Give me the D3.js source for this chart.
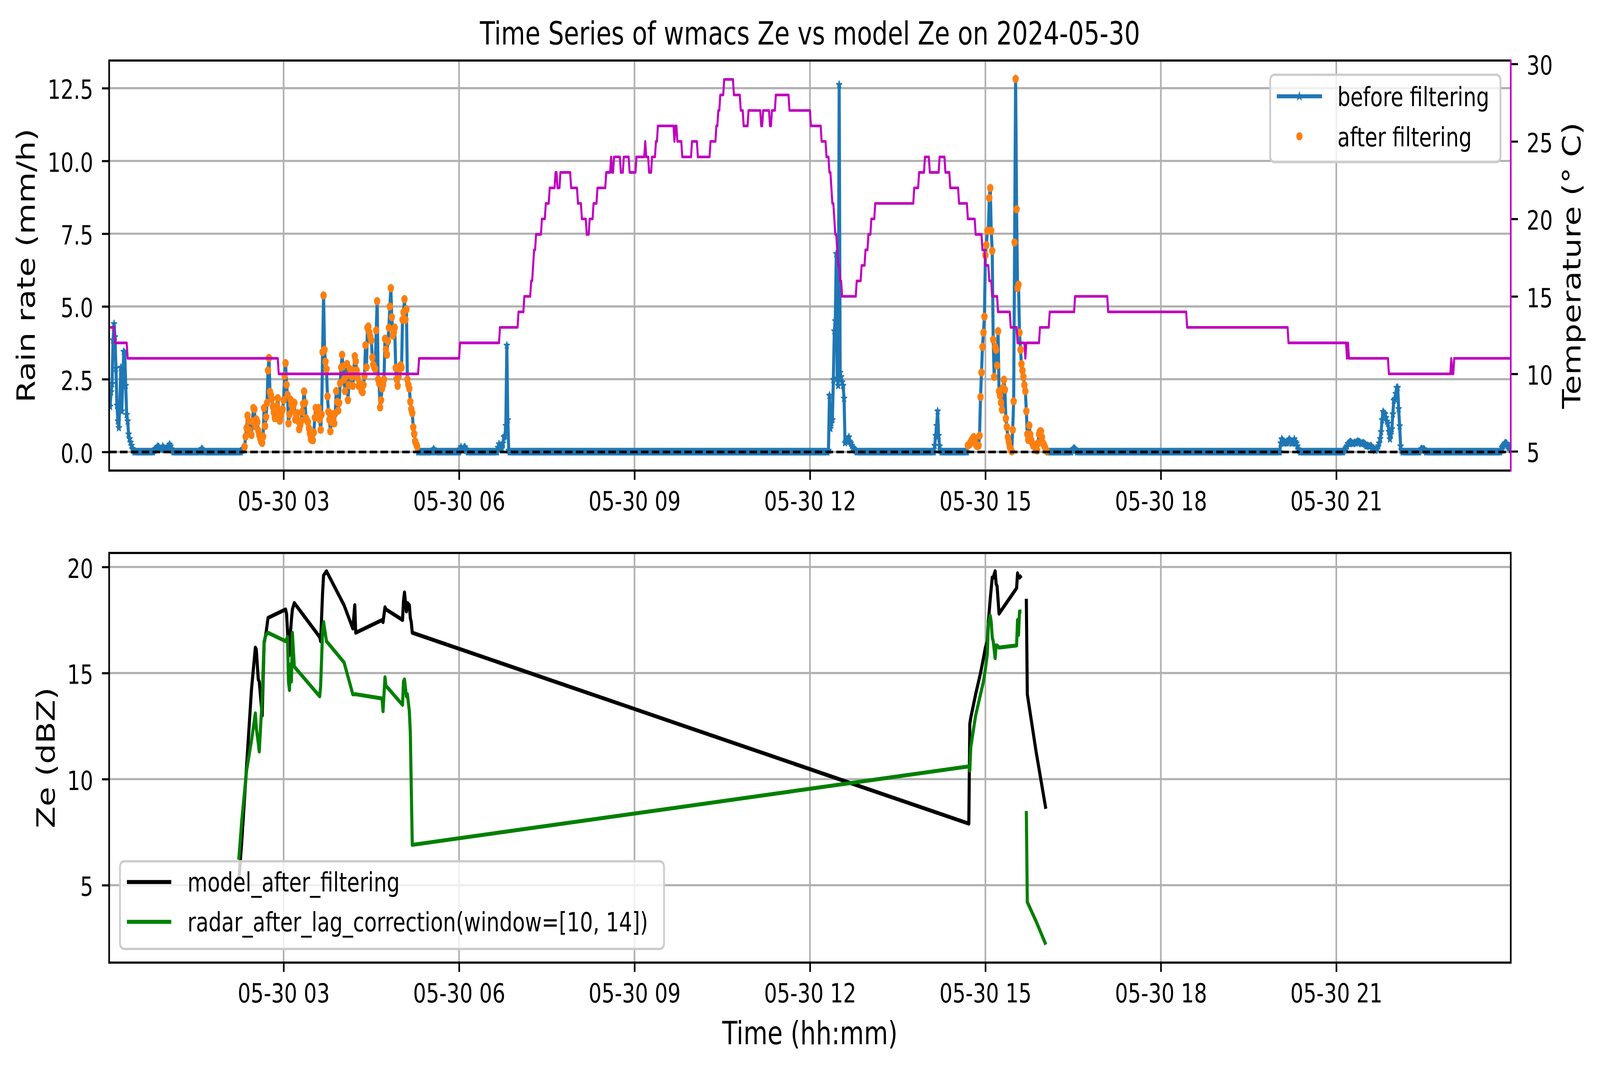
<!DOCTYPE html>
<html>
<head>
<meta charset="utf-8">
<script src="https://cdn.jsdelivr.net/npm/d3@7"></script>
<style>
  html, body { margin: 0; padding: 0; width: 100%; height: 100%; overflow: hidden; background: #fff; }
  svg { display: block; width: 100vw; height: 100vh; }
  text { font-family: "DejaVu Sans", sans-serif; fill: #000; }
</style>
</head>
<body>
<svg id="chart"></svg>
<script>
// ---- data ----
const day = "2024-05-30";

// rain rate, 1-minute samples from 00:01 to 23:59; minutes outside the episodes read 0
const dryRate = 0;
const rainEpisodeStarts = ["00:01", "00:47", "01:35", "02:17", "05:33", "06:01", "06:40", "12:19",
  "14:08", "14:42", "16:29", "20:03", "21:08", "22:26", "23:49"];
const rainEpisodeValues = [
  [1.6, 1.56, 2.06, 2.34, 3.84, 4.40, 3.95, 2.87, 1.6, 1.06, 0.83, 1.7, 2.9, 1.4, 2.5, 3.45, 3.4, 2.28, 1.28, 1.06, 0.61, 0.45, 0.33, 0.22, 0.11, 0.05],
  [0.05, 0.1, 0.11, 0.15, 0.19, 0.17, 0.11, 0.08, 0.12, 0.19, 0.14, 0.1, 0.08, 0.1, 0.15, 0.2, 0.26, 0.2, 0.1, 0.05],
  [0.05, 0.11, 0.08],
  [0.05, 0.1, 0.12, 0.18, 0.53, 0.82, 1.25, 1.07, 0.75, 0.62, 0.58, 1.05, 1.51, 1.47, 0.89, 1.12, 1.02, 0.73, 0.58, 0.46,
   0.36, 0.31, 0.53, 1.51, 0.89, 1.20, 1.69, 2.80, 3.23, 2.07, 1.95, 1.82, 1.55, 1.35, 1.16, 1.29, 1.58, 1.85, 1.42, 1.07,
   1.25, 1.38, 1.47, 1.78, 2.62, 3.05, 2.31, 1.96, 0.98, 1.29, 1.80, 1.62, 1.42, 1.58, 1.69, 1.11, 1.22, 1.33, 1.07, 0.78,
   0.92, 1.07, 1.38, 1.65, 2.08, 1.69, 1.16, 1.08, 1.02, 0.81, 0.62, 0.44, 0.41, 0.40, 0.67, 1.18, 1.51, 1.25, 1.38, 1.51,
   1.12, 0.76, 1.29, 3.43, 5.38, 3.51, 3.1, 2.85, 1.91, 1.38, 1.11, 0.71, 1.02, 1.29, 1.1, 0.98, 1.33, 2.09, 1.72, 1.42,
   1.69, 2.36, 2.9, 3.34, 2.94, 2.49, 2.09, 2.6, 3.02, 1.78, 2.3, 2.85, 2.7, 2.58, 2.27, 2.8, 3.29, 3.11, 2.8, 2.54,
   2.27, 2.35, 2.22, 2.1, 2.05, 2.3, 2.62, 3.67, 2.91, 4.27, 4.31, 4.1, 3.96, 3.83, 3.25, 3.0, 2.9, 2.85, 4.18, 5.18,
   2.49, 2.36, 1.53, 1.78, 2.18, 2.3, 2.49, 3.89, 3.52, 3.34, 3.8, 4.27, 5.0, 5.63, 4.63, 4.0, 4.1, 4.27, 2.89, 2.5,
   2.27, 2.6, 2.85, 2.98, 2.9, 4.54, 4.8, 5.25, 4.54, 4.9, 2.49, 2.3, 2.18, 1.73, 1.47, 1.33, 0.85, 0.62, 0.36, 0.27, 0.18],
  [0.05, 0.1, 0.05],
  [0.1, 0.17, 0.1, 0.05, 0.15, 0.17, 0.1, 0.05],
  [0.15, 0.27, 0.2, 0.1, 0.12, 0.3, 0.51, 0.55, 0.9, 3.66, 1.1, 0.05],
  [0.05, 1.94, 0.8, 1.0, 1.1, 2.48, 4.15, 4.5, 6.81, 2.53, 2.28, 12.62, 2.73, 2.58, 2.4, 2.28, 1.84, 0.31, 0.36, 0.4,
   0.46, 0.51, 0.36, 0.3, 0.22, 0.15, 0.12, 0.08, 0.04],
  [0.22, 0.56, 0.9, 1.4, 0.56, 0.2, 0.05],
  [0.22, 0.25, 0.27, 0.35, 0.41, 0.45, 0.51, 0.4, 0.27, 0.22, 0.2, 0.22, 0.56, 1.89, 2.73, 3.61, 4.1, 4.65, 6.76, 7.11,
   7.6, 7.6, 8.73, 9.07, 7.6, 6.91, 3.86, 2.58, 3.61, 3.51, 2.97, 4.15, 2.09, 1.94, 1.7, 1.45, 2.2, 2.48, 2.14, 1.15,
   0.86, 0.51, 0.35, 0.17, 0.1, 0.02, 0.76, 1.74, 7.2, 12.82, 8.34, 5.63, 5.75, 4.1, 3.51, 3.02, 2.8, 2.58, 2.3, 2.09,
   1.4, 0.61, 0.41, 0.91, 0.6, 0.41, 0.31, 0.22, 0.2, 0.17, 0.1, 0.05, 0.3, 0.61, 0.71, 0.71, 0.51, 0.31, 0.25, 0.17,
   0.08, 0.03],
  [0.05, 0.1, 0.12, 0.1, 0.05],
  [0.3, 0.44, 0.4, 0.34, 0.3, 0.32, 0.3, 0.34, 0.4, 0.44, 0.38, 0.3, 0.3, 0.34, 0.44, 0.35, 0.3, 0.2, 0.1, 0.05],
  [0.05, 0.1, 0.15, 0.2, 0.28, 0.3, 0.34, 0.34, 0.3, 0.28, 0.3, 0.32, 0.3, 0.34, 0.36, 0.34, 0.34, 0.3, 0.28, 0.3,
   0.3, 0.28, 0.25, 0.2, 0.22, 0.2, 0.18, 0.2, 0.2, 0.15, 0.1, 0.08, 0.05, 0.1, 0.12, 0.2, 0.3, 0.45, 0.69, 1.1,
   1.38, 1.33, 1.3, 1.18, 1.05, 0.98, 0.7, 0.44, 0.6, 0.79, 1.3, 1.77, 1.82, 2.0, 2.21, 2.21, 1.48, 0.89, 0.2, 0.05],
  [0.05, 0.1, 0.1, 0.08, 0.1, 0.05],
  [0.05, 0.15, 0.2, 0.25, 0.3, 0.3, 0.28, 0.2, 0.15, 0.15, 0.1]
];
// periods kept by the filter (orange points)
const filterWindows = [["02:20", "05:18"], ["14:40", "16:04"]];

// temperature: time of each change and the new level (deg C)
const tempTimes = ["00:01", "00:07", "00:20", "02:55", "05:19", "06:01", "06:42", "07:01", "07:07", "07:14",
  "07:16", "07:17", "07:19", "07:25", "07:29", "07:33", "07:39", "07:41", "07:44", "07:55",
  "08:02", "08:06", "08:11", "08:14", "08:18", "08:22", "08:31", "08:36", "08:37", "08:39",
  "08:46", "08:49", "08:55", "09:02", "09:11", "09:12", "09:15", "09:18", "09:22", "09:24",
  "09:41", "09:42", "09:44", "09:49", "09:59", "10:05", "10:18", "10:24", "10:26", "10:28",
  "10:32", "10:42", "10:49", "10:52", "10:57", "11:10", "11:12", "11:19", "11:21", "11:25",
  "11:39", "12:01", "12:12", "12:17", "12:20", "12:22", "12:23", "12:25", "12:26", "12:28",
  "12:29", "12:31", "12:33", "12:48", "12:53", "12:57", "13:00", "13:03", "13:07", "13:47",
  "13:52", "13:58", "14:03", "14:13", "14:19", "14:24", "14:33", "14:42", "14:50", "14:57",
  "15:00", "15:04", "15:07", "15:13", "15:26", "15:33", "15:41", "15:42", "15:56", "16:06",
  "16:32", "17:06", "18:27", "20:11", "21:11", "21:12", "21:13", "21:54", "22:58", "22:59", "23:01"];
const tempLevels = [13, 12, 11, 10, 11, 12, 13, 14, 15, 16,
  17, 18, 19, 20, 21, 22, 23, 22, 23, 22,
  21, 20, 19, 20, 21, 22, 23, 24, 23, 24,
  23, 24, 23, 24, 25, 24, 23, 24, 25, 26,
  25, 26, 25, 24, 25, 24, 25, 26, 27, 28,
  29, 28, 27, 26, 27, 26, 27, 26, 27, 28,
  27, 26, 25, 24, 23, 22, 21, 20, 19, 18,
  17, 16, 15, 16, 17, 18, 19, 20, 21, 22,
  23, 24, 23, 24, 23, 22, 21, 20, 19, 18,
  17, 16, 15, 14, 13, 12, 11, 12, 13, 14,
  15, 14, 13, 12, 11, 12, 11, 10, 11, 10, 11];

// Ze (dBZ) after filtering; null marks a gap
const zeTimes = ["02:14", "02:17", "02:22", "02:27", "02:31", "02:32", "02:34", "02:35", "02:38", "02:40",
  "02:42", "02:44", "03:02", "03:03", "03:04", "03:05", "03:06", "03:07", "03:08", "03:09",
  "03:11", "03:37", "03:38", "03:40", "03:41", "03:44", "04:02", "04:11", "04:13", "04:14",
  "04:41", "04:42", "04:44", "04:45", "05:02", "05:03", "05:04", "05:06", "05:07", "05:09",
  "05:10", "05:11", "05:12", "14:43", "14:44", "14:45", "14:50", "14:55", "14:58", "15:00",
  "15:02", "15:03", "15:05", "15:06", "15:07", "15:08", "15:10", "15:11", "15:12", "15:14",
  "15:32", "15:33", "15:34", "15:35", "15:37", "15:39", "15:42", "15:43", "15:52", "16:02"];
const modelZe = [5.2, 7.0, 10.6, 14.2, 16.2, 16.1, 14.7, 14.6, 13.0, 16.4,
  16.9, 17.6, 18.0, 17.8, 17.0, 15.8, 15.9, 16.9, 17.5, 18.0,
  18.3, 16.7, 16.5, 18.8, 19.6, 19.8, 18.2, 17.1, 18.2, 16.9,
  17.5, 17.4, 18.1, 18.0, 17.5, 18.4, 18.8, 17.9, 18.3, 18.2,
  17.6, 17.4, 16.9, 7.9, 12.6, 12.9, 14.0, 15.0, 15.7, 16.2,
  16.5, 17.4, 18.5, 19.0, 19.5, 19.5, 19.8, 19.2, 19.1, 17.8,
  19.0, 19.7, 19.5, 19.5, 19.6, null, 18.5, 14.0, 11.3, 8.6];
const radarZe = [6.2, 8.0, 10.4, 11.8, 13.1, 12.4, 11.7, 11.3, 13.8, 16.5,
  16.8, 16.9, 16.5, 16.6, 16.7, 14.6, 14.2, 15.4, 14.6, 16.9,
  15.3, 13.9, 14.4, 17.0, 17.4, 16.5, 15.5, 14.0, 14.0, 14.0,
  13.8, 13.2, 14.8, 14.4, 13.5, 14.6, 14.7, 13.9, 14.0, 13.2,
  12.2, 9.5, 6.9, 10.6, 10.4, 11.5, 13.0, 14.0, 14.6, 15.2,
  15.9, 17.3, 17.7, 17.4, 16.7, 16.5, 15.7, 16.3, 16.3, 16.2,
  16.3, 17.5, 16.8, 17.9, 17.9, null, 8.5, 4.2, 3.3, 2.2];

const rainTicks = [0, 2.5, 5, 7.5, 10, 12.5];
const tempTicks = [5, 10, 15, 20, 25, 30];
const zeTicks = [5, 10, 15, 20];
const timeTicks = ["03:00", "06:00", "09:00", "12:00", "15:00", "18:00", "21:00"];

// ---- layout ----
const W = 5307, H = 2740;
const PT = 6.8;                // one typographic point in pixels
const tickFont = 68, labelFont = 82;
const C = { blue: "#1f77b4", orange: "#ff7f0e", mag: "#bf00bf", green: "#008000", grid: "#b0b0b0" };
const topBox = { l: 362, r: 5011, t: 155, b: 1205 };
const botBox = { l: 362, r: 5011, t: 1416, b: 2465 };

const parseTime = d3.utcParse("%Y-%m-%d %H:%M");
const at = s => parseTime(`${day} ${s}`);
const minuteMs = 60000;

// the drawing is done in 5307 x 2740 units and scaled to whatever the viewport is
const svg = d3.select("#chart").attr("viewBox", `0 0 ${W} ${H}`).attr("preserveAspectRatio", "none");
svg.append("rect").attr("width", W).attr("height", H).attr("fill", "#fff");

const x = d3.scaleUtc().domain([at("00:01"), at("23:59")]).range([topBox.l, topBox.r]);
const yRain = d3.scaleLinear().domain([-0.64, 13.45]).range([topBox.b, topBox.t]);
const yTemp = d3.scaleLinear().domain([3.76, 30.22]).range([topBox.b, topBox.t]);
const yZe = d3.scaleLinear().domain([1.35, 20.66]).range([botBox.b, botBox.t]);
const xTickDates = timeTicks.map(at);

// ---- series ----
const rainMap = new Map();
rainEpisodeStarts.forEach((s, i) => {
  const t0 = +at(s);
  rainEpisodeValues[i].forEach((v, j) => rainMap.set(t0 + j * minuteMs, v));
});
const rain = d3.utcMinute.range(at("00:01"), new Date(+at("23:59") + 1))
  .map(t => ({ t, v: rainMap.has(+t) ? rainMap.get(+t) : dryRate }));
const windows = filterWindows.map(w => [+at(w[0]), +at(w[1])]);
const filtered = rain.filter(d => d.v > 0 && windows.some(w => +d.t >= w[0] && +d.t <= w[1]));

const tempPts = [];
tempTimes.forEach((s, i) => {
  const t = at(s);
  if (i > 0) tempPts.push({ t: new Date(+t - minuteMs), v: tempLevels[i - 1] });
  tempPts.push({ t, v: tempLevels[i] });
});
tempPts.push({ t: at("23:59"), v: tempLevels[tempLevels.length - 1] });

const zeModel = zeTimes.map((s, i) => ({ t: at(s), v: modelZe[i] }));
const zeRadar = zeTimes.map((s, i) => ({ t: at(s), v: radarZe[i] }));

// ---- helpers ----
const defs = svg.append("defs");
function clip(id, b) {
  defs.append("clipPath").attr("id", id).append("rect")
    .attr("x", b.l).attr("y", b.t).attr("width", b.r - b.l).attr("height", b.b - b.t);
}
clip("clipTop", topBox);
clip("clipBot", botBox);

function grid(g, b, yScale, yTicks) {
  g.selectAll(".gx").data(xTickDates).enter().append("line")
    .attr("x1", d => x(d)).attr("x2", d => x(d)).attr("y1", b.t).attr("y2", b.b)
    .attr("stroke", C.grid).attr("stroke-width", 0.8 * PT);
  g.selectAll(".gy").data(yTicks).enter().append("line")
    .attr("x1", b.l).attr("x2", b.r).attr("y1", d => yScale(d)).attr("y2", d => yScale(d))
    .attr("stroke", C.grid).attr("stroke-width", 0.8 * PT);
}

function styleAxis(g, dy) {
  g.attr("font-size", tickFont).attr("font-family", "DejaVu Sans");
  g.select(".domain").remove();
  g.selectAll(".tick line").attr("stroke", "#000").attr("stroke-width", 0.8 * PT);
  g.selectAll(".tick text").attr("fill", "#000");
  if (dy) g.selectAll(".tick text").attr("dy", dy);
}

function spines(g, b, rightColor) {
  const sw = 0.8 * PT;
  g.append("line").attr("x1", b.l).attr("x2", b.r).attr("y1", b.t).attr("y2", b.t).attr("stroke", "#000").attr("stroke-width", sw);
  g.append("line").attr("x1", b.l).attr("x2", b.r).attr("y1", b.b).attr("y2", b.b).attr("stroke", "#000").attr("stroke-width", sw);
  g.append("line").attr("x1", b.l).attr("x2", b.l).attr("y1", b.t - sw / 2).attr("y2", b.b + sw / 2).attr("stroke", "#000").attr("stroke-width", sw);
  g.append("line").attr("x1", b.r).attr("x2", b.r).attr("y1", b.t - sw / 2).attr("y2", b.b + sw / 2).attr("stroke", rightColor).attr("stroke-width", sw);
}

const star = d3.symbol().type(d3.symbolStar).size(100);

// ================= top panel =================
const gTop = svg.append("g");
grid(gTop, topBox, yRain, rainTicks);

const gData = gTop.append("g").attr("clip-path", "url(#clipTop)");
const rainLine = d3.line().x(d => x(d.t)).y(d => yRain(d.v));
gData.append("path").datum(rain).attr("d", rainLine)
  .attr("fill", "none").attr("stroke", C.blue).attr("stroke-width", 1.5 * PT).attr("stroke-linejoin", "round");
gData.selectAll(".star").data(rain).enter().append("path")
  .attr("d", star).attr("transform", d => `translate(${x(d.t)},${yRain(d.v)})`)
  .attr("fill", C.blue).attr("stroke", C.blue).attr("stroke-width", 3).attr("stroke-linejoin", "round");
gData.selectAll(".dot").data(filtered).enter().append("circle")
  .attr("cx", d => x(d.t)).attr("cy", d => yRain(d.v)).attr("r", 10.5).attr("fill", C.orange);
gData.append("line").attr("x1", topBox.l).attr("x2", topBox.r).attr("y1", yRain(0)).attr("y2", yRain(0))
  .attr("stroke", "#000").attr("stroke-width", PT).attr("stroke-dasharray", "25,11");

// legend (upper right)
const legTop = gTop.append("g");
legTop.append("rect").attr("x", 4213).attr("y", 191.6).attr("width", 764).attr("height", 223.4)
  .attr("rx", 14).attr("fill", "#fff").attr("fill-opacity", 0.8).attr("stroke", "#cccccc").attr("stroke-width", 6);
legTop.append("line").attr("x1", 4235).attr("x2", 4385).attr("y1", 246.6).attr("y2", 246.6)
  .attr("stroke", C.blue).attr("stroke-width", 1.5 * PT);
legTop.append("path").attr("d", star).attr("transform", "translate(4310,246.6)")
  .attr("fill", C.blue).attr("stroke", C.blue).attr("stroke-width", 3);
legTop.append("text").attr("x", 4436).attr("y", 272).attr("font-size", tickFont).text("before filtering");
legTop.append("circle").attr("cx", 4310).attr("cy", 349).attr("r", 10.5).attr("fill", C.orange);
legTop.append("text").attr("x", 4436).attr("y", 375).attr("font-size", tickFont).text("after filtering");

// axes of the rain panel
gTop.append("g").attr("transform", `translate(0,${topBox.b})`)
  .call(d3.axisBottom(x).tickValues(xTickDates).tickFormat(d3.utcFormat("%m-%d %H")).tickSize(3.5 * PT).tickPadding(30))
  .call(g => styleAxis(g));
gTop.append("g").attr("transform", `translate(${topBox.l},0)`)
  .call(d3.axisLeft(yRain).tickValues(rainTicks).tickFormat(d3.format(".1f")).tickSize(3.5 * PT).tickPadding(29))
  .call(g => styleAxis(g, "0.4em"));

// temperature on the twin axis
gTop.append("path").datum(tempPts)
  .attr("d", d3.line().x(d => x(d.t)).y(d => yTemp(d.v)))
  .attr("fill", "none").attr("stroke", C.mag).attr("stroke-width", PT).attr("stroke-linejoin", "round");
gTop.append("g").attr("transform", `translate(${topBox.r},0)`)
  .call(d3.axisRight(yTemp).tickValues(tempTicks).tickFormat(d3.format("d")).tickSize(3.5 * PT).tickPadding(29))
  .call(g => styleAxis(g, "0.4em"));
spines(gTop, topBox, C.mag);

// ================= bottom panel =================
const gBot = svg.append("g");
grid(gBot, botBox, yZe, zeTicks);
const zeLine = d3.line().defined(d => d.v !== null).x(d => x(d.t)).y(d => yZe(d.v));
const gZe = gBot.append("g").attr("clip-path", "url(#clipBot)");
gZe.append("path").datum(zeModel).attr("d", zeLine)
  .attr("fill", "none").attr("stroke", "#000").attr("stroke-width", 1.5 * PT).attr("stroke-linejoin", "round");
gZe.append("path").datum(zeRadar).attr("d", zeLine)
  .attr("fill", "none").attr("stroke", C.green).attr("stroke-width", 1.5 * PT).attr("stroke-linejoin", "round");

// legend (lower left)
const legBot = gBot.append("g");
const legRect = legBot.append("rect").attr("x", 398).attr("y", 2205.5).attr("height", 224.5)
  .attr("rx", 14).attr("fill", "#fff").attr("fill-opacity", 0.8).attr("stroke", "#cccccc").attr("stroke-width", 6);
const zeNames = ["model_after_filtering", "radar_after_lag_correction(window=[10, 14])"];
const zeColors = ["#000", C.green];
let maxLen = 0;
zeNames.forEach((name, i) => {
  const cy = 2258.7 + i * 101.9;
  legBot.append("line").attr("x1", 421).attr("x2", 568).attr("y1", cy).attr("y2", cy)
    .attr("stroke", zeColors[i]).attr("stroke-width", 1.5 * PT);
  const t = legBot.append("text").attr("x", 622).attr("y", cy + 24.8).attr("font-size", tickFont).text(name);
  maxLen = Math.max(maxLen, t.node().getComputedTextLength());
});
legRect.attr("width", (622 - 398) + maxLen + 53);

gBot.append("g").attr("transform", `translate(0,${botBox.b})`)
  .call(d3.axisBottom(x).tickValues(xTickDates).tickFormat(d3.utcFormat("%m-%d %H")).tickSize(3.5 * PT).tickPadding(30))
  .call(g => styleAxis(g));
gBot.append("g").attr("transform", `translate(${botBox.l},0)`)
  .call(d3.axisLeft(yZe).tickValues(zeTicks).tickFormat(d3.format("d")).tickSize(3.5 * PT).tickPadding(29))
  .call(g => styleAxis(g, "0.4em"));
spines(gBot, botBox, "#000");

// ================= texts =================
const midX = (topBox.l + topBox.r) / 2;
svg.append("text").attr("x", midX).attr("y", 114).attr("text-anchor", "middle").attr("font-size", labelFont)
  .text("Time Series of wmacs Ze vs model Ze on 2024-05-30");
svg.append("text").attr("x", midX).attr("y", 2674).attr("text-anchor", "middle").attr("font-size", labelFont)
  .text("Time (hh:mm)");
svg.append("text").attr("transform", `translate(115,${(topBox.t + topBox.b) / 2}) rotate(-90)`)
  .attr("text-anchor", "middle").attr("font-size", labelFont).text("Rain rate (mm/h)");
svg.append("text").attr("transform", `translate(5242,${(topBox.t + topBox.b) / 2}) rotate(-90)`)
  .attr("text-anchor", "middle").attr("font-size", labelFont).text("Temperature (° C)");
svg.append("text").attr("transform", `translate(181,${(botBox.t + botBox.b) / 2}) rotate(-90)`)
  .attr("text-anchor", "middle").attr("font-size", labelFont).text("Ze (dBZ)");
</script>
</body>
</html>
